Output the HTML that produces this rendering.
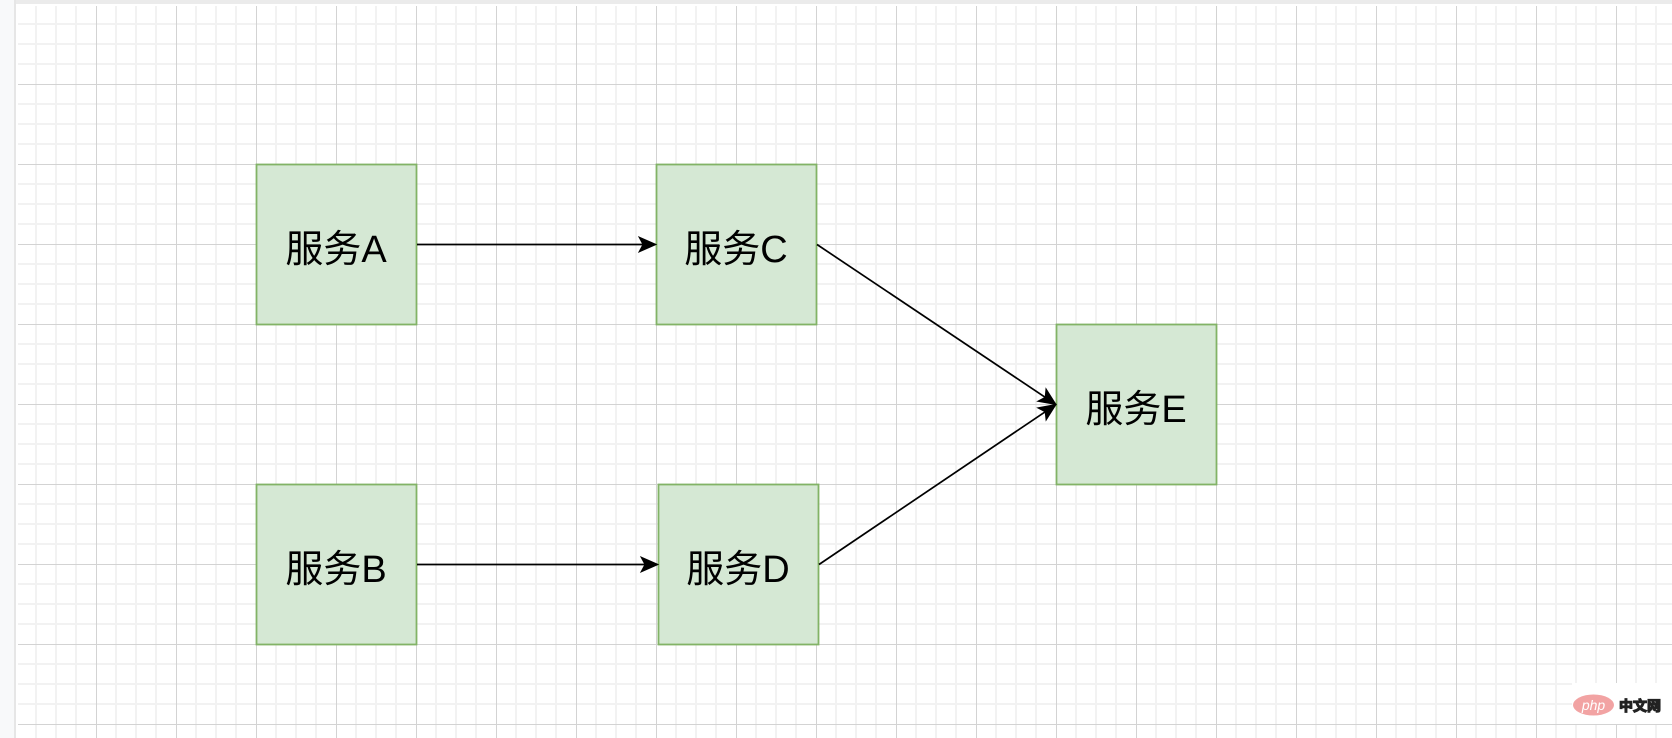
<!DOCTYPE html>
<html>
<head>
<meta charset="utf-8">
<style>
  html, body { margin:0; padding:0; background:#f8f9fa; }
  body { width:1672px; height:738px; overflow:hidden; }
  svg { display:block; }
  .lbl { font-family: "Liberation Sans", "Noto Sans CJK SC", sans-serif; font-size:38px; fill:#000; }
</style>
</head>
<body>
<svg width="1672" height="738" viewBox="0 0 1672 738" xmlns="http://www.w3.org/2000/svg">
  <defs>
    <pattern id="g" x="16" y="4" width="80" height="80" patternUnits="userSpaceOnUse">
      <rect x="0" y="0" width="80" height="80" fill="#ffffff"/>
      <rect x="19" y="0" width="2" height="80" fill="#f2f2f2"/>
      <rect x="39" y="0" width="2" height="80" fill="#f2f2f2"/>
      <rect x="59" y="0" width="2" height="80" fill="#f2f2f2"/>
      <rect x="0" y="19" width="80" height="2" fill="#f2f2f2"/>
      <rect x="0" y="39" width="80" height="2" fill="#f2f2f2"/>
      <rect x="0" y="59" width="80" height="2" fill="#f2f2f2"/>
      <rect x="0" y="0" width="1" height="80" fill="#d3d3d3"/>
      <rect x="0" y="0" width="80" height="1" fill="#d3d3d3"/>
    </pattern>
  </defs>

  <!-- background / page -->
  <rect x="0" y="0" width="1672" height="738" fill="#f8f9fa"/>
  <rect x="14" y="0" width="1658" height="4" fill="#ebebeb"/>
  <rect x="14" y="0" width="2" height="738" fill="#e6e6e6"/>
  <rect x="16" y="4" width="1656" height="734" fill="#ffffff"/>
  <rect x="18" y="6" width="1654" height="732" fill="url(#g)"/>

  <!-- boxes -->
  <g fill="#d5e8d4" stroke="#82b366" stroke-width="1.8">
    <rect x="256.5" y="164.5" width="160" height="160"/>
    <rect x="656.5" y="164.5" width="160" height="160"/>
    <rect x="256.5" y="484.5" width="160" height="160"/>
    <rect x="658.5" y="484.5" width="160" height="160"/>
    <rect x="1056.5" y="324.5" width="160" height="160"/>
  </g>

  <!-- connectors -->
  <g stroke="#000" stroke-width="1.7" fill="none">
    <line x1="417" y1="244.5" x2="644" y2="244.5"/>
    <line x1="417" y1="564.5" x2="646" y2="564.5"/>
    <line x1="817" y1="244.5" x2="1045.2" y2="397.3"/>
    <line x1="819" y1="564.5" x2="1045.2" y2="411.8"/>
  </g>
  <g fill="#000" stroke="#000" stroke-width="1">
    <polygon points="656,244.5 639,237 643,244.5 639,252"/>
    <polygon points="658,564.5 641,557 645,564.5 641,572"/>
    <polygon points="1056,404.5 1037.7,401.3 1045.2,397.3 1046.0,388.8"/>
    <polygon points="1056,404.5 1046.1,420.2 1045.2,411.8 1037.7,407.8"/>
  </g>

  <!-- labels -->
  <text class="lbl" x="336" y="262" text-anchor="middle">服务A</text>
  <text class="lbl" x="736" y="262" text-anchor="middle">服务C</text>
  <text class="lbl" x="336" y="582" text-anchor="middle">服务B</text>
  <text class="lbl" x="738" y="582" text-anchor="middle">服务D</text>
  <text class="lbl" x="1136" y="422" text-anchor="middle">服务E</text>

  <!-- watermark -->
  <rect x="1572" y="683" width="100" height="41" fill="#ffffff"/>
  <ellipse cx="1593.5" cy="705" rx="20.5" ry="10.5" fill="#f2a3a3"/>
  <text x="1593.5" y="710" text-anchor="middle" font-family="Liberation Sans, sans-serif" font-style="italic" font-size="14" fill="#ffffff">php</text>
  <text x="1619" y="711" font-family="Liberation Sans, 'Noto Sans CJK SC', sans-serif" font-weight="bold" font-size="14" fill="#222222" stroke="#222222" stroke-width="1.2">中文网</text>
</svg>
</body>
</html>
